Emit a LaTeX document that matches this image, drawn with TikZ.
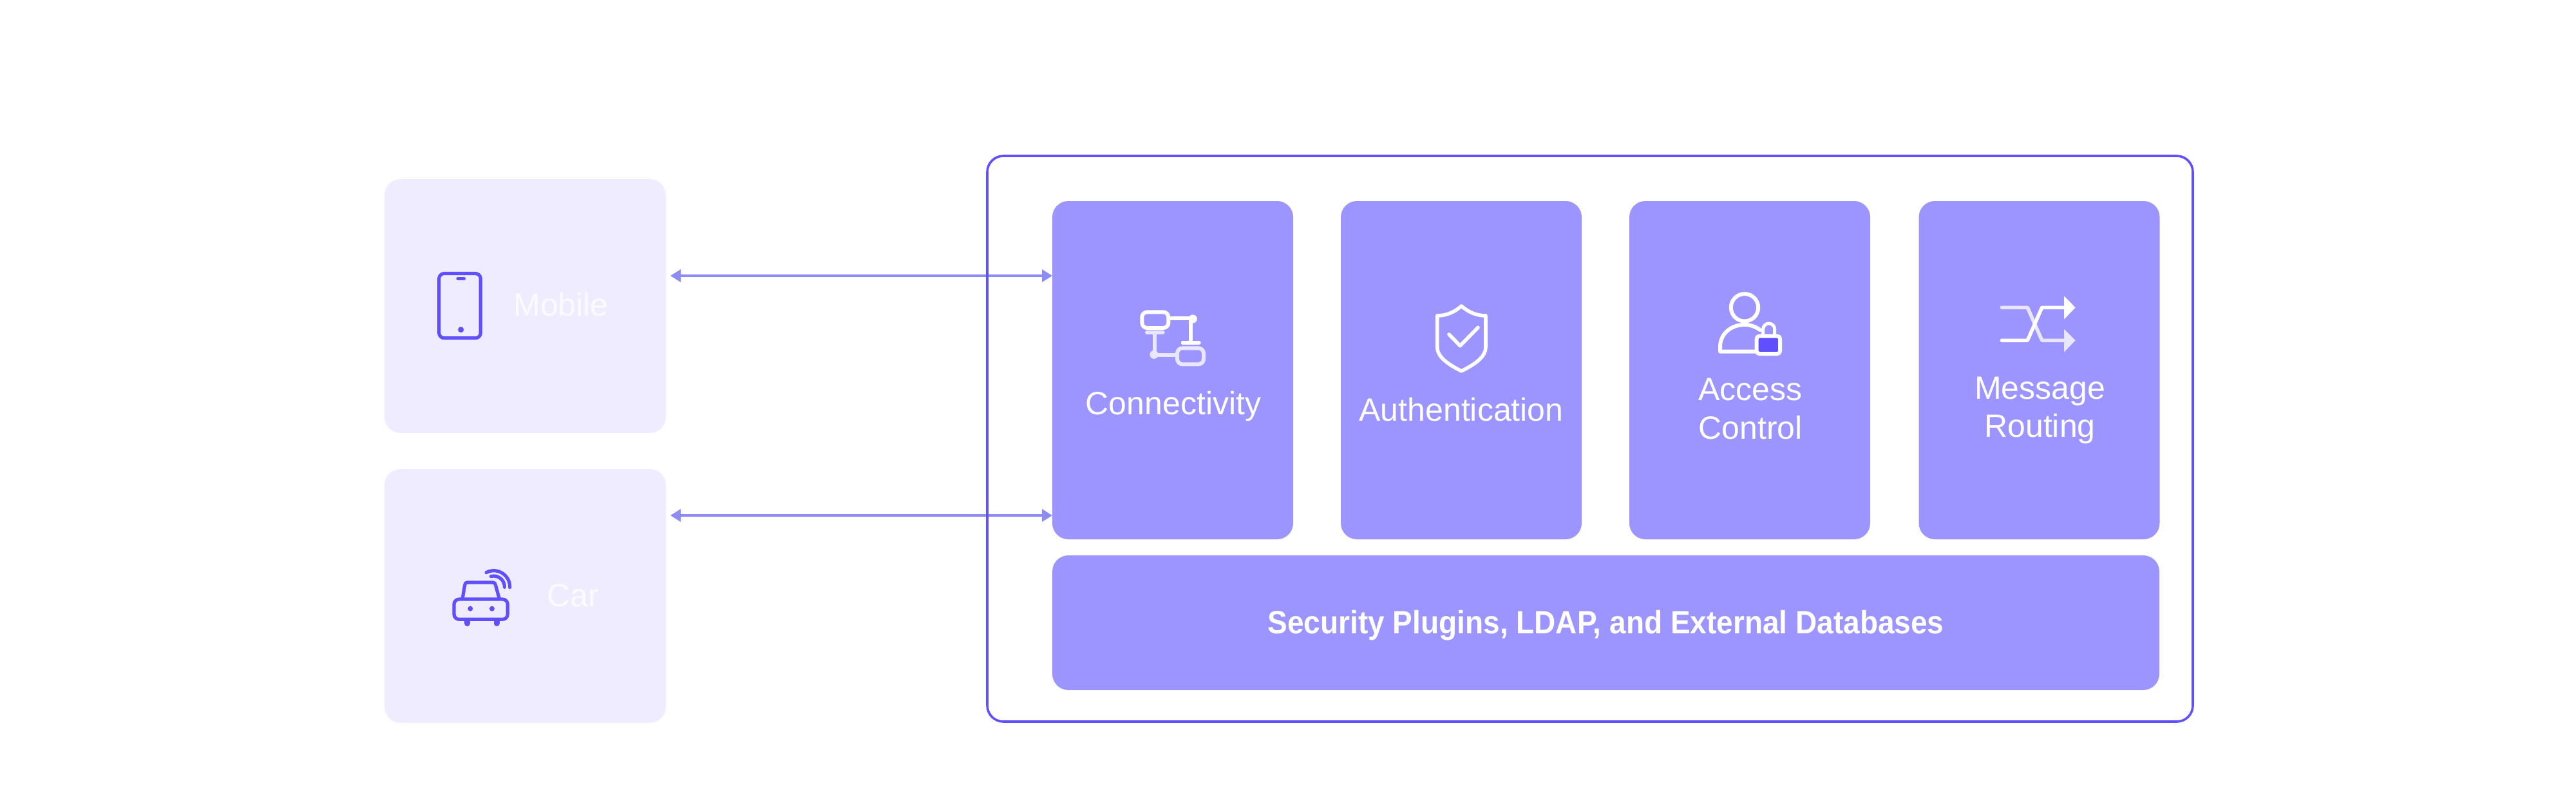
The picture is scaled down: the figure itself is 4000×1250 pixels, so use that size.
\documentclass[tikz,border=0pt]{standalone}
\usepackage{fontspec}
\setmainfont{Liberation Sans}
\newfontfamily\barfont{Liberation Sans}[FakeStretch=0.92]
\usetikzlibrary{arrows.meta}
\definecolor{lightbg}{HTML}{F0ECFF}
\definecolor{midbg}{HTML}{9C94FF}
\definecolor{deep}{HTML}{5F4FFF}
\definecolor{arrowc}{HTML}{8C8CF2}
\definecolor{soft}{HTML}{E9E6FF}
\definecolor{labelw}{HTML}{FBFAFF}
\tikzset{
  x=0.5pt,y=-0.5pt,
  clientbox/.style={fill=lightbg,draw=none,rounded corners=12.5pt,inner sep=0pt,minimum width=218.5pt,minimum height=197pt},
  featbox/.style={fill=midbg,draw=none,rounded corners=12.5pt,inner sep=0pt,minimum width=187pt,minimum height=262.5pt},
  barbox/.style={fill=midbg,draw=none,rounded corners=12.5pt,inner sep=0pt,minimum width=859.5pt,minimum height=104.5pt},
  outerbox/.style={draw=deep,line width=1.8pt,rounded corners=12.5pt,inner sep=0pt,minimum width=936pt,minimum height=439pt},
  biarrow/.style={draw=arrowc,line width=1.8pt,{Triangle[length=8pt,width=9.5pt]}-{Triangle[length=8pt,width=9.5pt]}},
  lbl/.style={font=\fontsize{25pt}{30pt}\selectfont,text=white,inner sep=0pt,anchor=base},
  lbllight/.style={font=\fontsize{25pt}{30pt}\selectfont,text=labelw,inner sep=0pt,anchor=base west},
  lblbold/.style={font=\barfont\fontsize{25pt}{30pt}\selectfont\bfseries,text=white,inner sep=0pt,anchor=base},
  ico/.style={draw=deep,line width=2.6pt,line cap=round,line join=round},
  icow/.style={draw=white,line width=3pt,line cap=round,line join=round},
  icos/.style={draw=soft,line width=3pt,line cap=round,line join=round},
}
\begin{document}
\begin{tikzpicture}
\useasboundingbox (0,0) rectangle (4000,1250);
% clients
\node[clientbox] (mobile) at (815.5,475) {};
\node[clientbox] (car) at (815.5,925) {};
\node[lbllight] (mobilelabel) at (797,490) {Mobile};
\node[lbllight] (carlabel) at (849,941) {Car};
% connector ends
\coordinate (mobileport) at (1041,428);
\coordinate (carport) at (1041,800);
\coordinate (connport) at (1634,428);
\coordinate (connportb) at (1634,800);
\draw[biarrow] (mobileport) -- (connport);
\draw[biarrow] (carport) -- (connportb);
% broker
\node[outerbox] (broker) at (2469,681) {};
\node[featbox] (conn) at (1821,574.5) {};
\node[featbox] (auth) at (2269,574.5) {};
\node[featbox] (access) at (2717,574.5) {};
\node[featbox] (route) at (3166.5,574.5) {};
\node[barbox] (bar) at (2493.5,966.5) {};
\node[lbl] (connlabel) at (1822,643) {Connectivity};
\node[lbl] (authlabel) at (2269,653) {Authentication};
\node[lbl] (accesslabel) at (2718,621) {Access};
\node[lbl] (accesslabelb) at (2718,681) {Control};
\node[lbl] (routelabel) at (3167.5,619) {Message};
\node[lbl] (routelabelb) at (3167.5,678) {Routing};
\node[lblbold] (barlabel) at (2493.5,983) {Security Plugins, LDAP, and External Databases};
% phone icon
\draw[ico] (689.7,424.5) -- (738.3,424.5) arc[start angle=90,end angle=0,radius=4pt] -- (746.3,516.7) arc[start angle=0,end angle=-90,radius=4pt] -- (689.7,524.7) arc[start angle=270,end angle=180,radius=4pt] -- (681.7,432.5) arc[start angle=180,end angle=90,radius=4pt] -- cycle;
\draw[ico] (711,432.3) -- (720.5,432.3);
\fill[deep] (715.7,511.7) circle[radius=2.25pt];
% car icon
\draw[ico,rounded corners=4pt] (705,930) rectangle (788.3,961.3);
\draw[ico] (718.3,928.3) -- (721.7,908) .. controls (722.3,905) and (723,904) .. (726,904) -- (765,904) .. controls (768,904) and (769,905) .. (769.5,908) -- (775,928.3);
\fill[deep] (730.3,944.7) circle[radius=2pt];
\fill[deep] (764,944.7) circle[radius=2pt];
\draw[ico,line width=4.5pt,line cap=round] (725.5,965) -- (725.5,967.5);
\draw[ico,line width=4.5pt,line cap=round] (771.2,965) -- (771.2,967.5);
\draw[ico] (766.7,910.7) ++(118:12.5pt) arc[start angle=118,end angle=-2,radius=12.5pt];
\draw[ico] (766.7,910.7) ++(105:8.35pt) arc[start angle=105,end angle=-2,radius=8.35pt];
% connectivity icon
\draw[icos] (1781,516.3) -- (1805.7,516.3);
\draw[icos] (1792.7,516.3) -- (1792.7,550.7) -- (1828,550.7);
\fill[soft] (1792,550.3) circle[radius=3.3pt];
\draw[icos,rounded corners=4pt] (1828,540.3) rectangle (1869,565.3);
\draw[icow] (1814.3,494) -- (1849.3,494) -- (1849.3,531.7);
\draw[icow] (1836.7,531.7) -- (1861.7,531.7);
\fill[white] (1852.3,495) circle[radius=3.3pt];
\draw[icow,rounded corners=4pt] (1773.3,484.3) rectangle (1814.3,509);
% shield icon
\draw[icow,line width=2.8pt] (2269.3,475) .. controls (2258,485) and (2245,490) .. (2231.7,490) -- (2231.7,538.3) .. controls (2231.7,555) and (2250,566) .. (2269.3,576) .. controls (2288.6,566) and (2307,555) .. (2307,538.3) -- (2307,490) .. controls (2293.6,490) and (2280.6,485) .. (2269.3,475) -- cycle;
\draw[icow,line width=2.8pt] (2250,519) -- (2267.3,536.7) -- (2295,508.3);
% access icon
\draw[icow] (2709,477.3) circle[radius=10.6pt];
\draw[icow] (2727,545.7) -- (2671,545.7) -- (2671,538) .. controls (2671,518) and (2688,504) .. (2709,504) .. controls (2718,504) and (2726,507) .. (2733,512);
\draw[icow,line width=2.5pt] (2737.7,521) -- (2737.7,511) arc[start angle=180,end angle=0,radius=4.5pt] -- (2755.7,521);
\draw[icow,fill=deep,rounded corners=2pt] (2727.7,521.7) rectangle (2764,549);
% routing icon
\draw[icos,line width=2.8pt] (3108.3,477.3) -- (3148.3,477.3) -- (3170.7,528.3) -- (3205,528.3);
\fill[soft] (3205,510.7) -- (3222.7,528.3) -- (3205,546.7) -- cycle;
\draw[icow,line width=2.8pt] (3108.3,528.3) -- (3148.3,528.3) -- (3170.7,477.3) -- (3205,477.3);
\fill[white] (3205,459.3) -- (3222.7,477.3) -- (3205,495.7) -- cycle;
\end{tikzpicture}
\end{document}
